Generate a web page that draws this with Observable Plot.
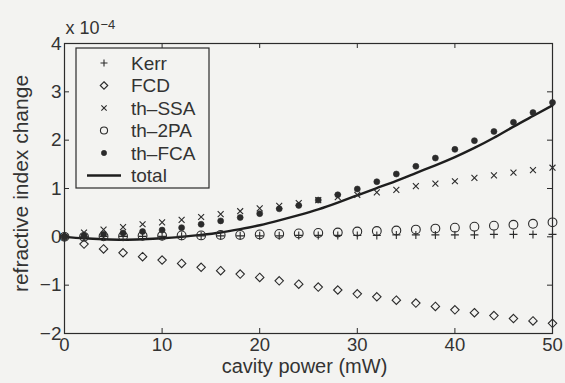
<!DOCTYPE html>
<html>
<head>
<meta charset="utf-8">
<script src="https://cdn.jsdelivr.net/npm/d3@7"></script>
<script src="https://cdn.jsdelivr.net/npm/@observablehq/plot@0.6"></script>
<style>
html, body { margin: 0; padding: 0; background: #f3f3f1; }
#wrap { position: relative; width: 565px; height: 383px; overflow: hidden; }
#wrap svg { display: block; }
#legend { position: absolute; left: 0; top: 0; pointer-events: none; }
</style>
</head>
<body>
<div id="wrap"></div>
<script>
// ---- data (refractive index change, units of 1e-4) ----
const power = [0, 2, 4, 6, 8, 10, 12, 14, 16, 18, 20, 22, 24, 26, 28, 30, 32, 34, 36, 38, 40, 42, 44, 46, 48, 50];
const kerr  = [0, 0.00, 0.01, 0.01, 0.01, 0.01, 0.01, 0.02, 0.02, 0.02, 0.02, 0.02, 0.03, 0.03, 0.03, 0.03, 0.03, 0.04, 0.04, 0.04, 0.04, 0.04, 0.05, 0.05, 0.05, 0.05];
const fcd   = [0, -0.15, -0.25, -0.33, -0.41, -0.48, -0.55, -0.63, -0.70, -0.77, -0.84, -0.91, -0.98, -1.04, -1.10, -1.18, -1.24, -1.31, -1.37, -1.44, -1.51, -1.57, -1.63, -1.69, -1.74, -1.79];
const ssa   = [0, 0.09, 0.15, 0.20, 0.26, 0.30, 0.35, 0.41, 0.47, 0.53, 0.59, 0.64, 0.70, 0.76, 0.82, 0.87, 0.92, 0.97, 1.05, 1.10, 1.15, 1.22, 1.27, 1.33, 1.38, 1.43];
const tpa   = [0, 0.00, 0.01, 0.01, 0.02, 0.02, 0.03, 0.03, 0.04, 0.04, 0.05, 0.06, 0.07, 0.08, 0.09, 0.11, 0.12, 0.13, 0.15, 0.17, 0.19, 0.21, 0.23, 0.25, 0.27, 0.30];
const fca   = [0, 0.02, 0.05, 0.08, 0.11, 0.14, 0.19, 0.26, 0.33, 0.40, 0.48, 0.58, 0.65, 0.76, 0.87, 0.99, 1.14, 1.30, 1.46, 1.63, 1.81, 1.99, 2.18, 2.37, 2.57, 2.78];
const total = [0, -0.03, -0.05, -0.06, -0.05, -0.03, 0.00, 0.04, 0.09, 0.16, 0.24, 0.34, 0.45, 0.57, 0.71, 0.86, 1.01, 1.16, 1.32, 1.48, 1.65, 1.84, 2.05, 2.28, 2.50, 2.72];

const seriesNames = ["Kerr", "FCD", "th\u2013SSA", "th\u20132PA", "th\u2013FCA", "total"];
const xTicks = [0, 10, 20, 30, 40, 50];
const yTicks = [-2, -1, 0, 1, 2, 3, 4];
const xLabel = "cavity power (mW)";
const yLabel = "refractive index change";
const scaleText = "x 10";
const scaleExp = "\u22124";

// ---- styles ----
const ink = "#2b2b2b";
const textInk = "#333";
const font = "'Liberation Sans', Arial, Helvetica, sans-serif";
const W = 565, H = 383, ML = 64, MR = 13, MT = 43, MB = 50;
const FW = W - ML - MR, FH = H - MT - MB, TL = 5;

const chart = Plot.plot({
  width: W, height: H,
  marginLeft: ML, marginRight: MR, marginTop: MT, marginBottom: MB,
  style: { background: "transparent", fontFamily: font, fontSize: "19px", color: textInk },
  x: { domain: [0, 50] },
  y: { domain: [-2, 4] },
  marks: [
    Plot.frame({ stroke: ink, strokeWidth: 1.2 }),
    // inward ticks on all four sides
    Plot.ruleX(xTicks, { insetTop: FH - TL, stroke: ink, strokeWidth: 1 }),
    Plot.ruleX(xTicks, { insetBottom: FH - TL, stroke: ink, strokeWidth: 1 }),
    Plot.ruleY(yTicks, { insetRight: FW - TL, stroke: ink, strokeWidth: 1 }),
    Plot.ruleY(yTicks, { insetLeft: FW - TL, stroke: ink, strokeWidth: 1 }),
    Plot.axisX(xTicks, { tickSize: 0, tickPadding: 4, label: null, fontSize: 18.5, fill: textInk }),
    Plot.axisY(yTicks, { tickSize: 0, tickPadding: 3, label: null, fontSize: 19, fill: textInk }),
    // series
    Plot.line(power, { x: power, y: total, curve: "natural", stroke: "#1e1e1e", strokeWidth: 2.4 }),
    Plot.dot(power, { x: power, y: kerr, symbol: "plus", r: 2.7, stroke: ink, strokeWidth: 1.1, fill: "none" }),
    Plot.dot(power, { x: power, y: fcd, symbol: "diamond2", r: 3.8, stroke: ink, strokeWidth: 1.1, fill: "none" }),
    Plot.dot(power, { x: power, y: ssa, symbol: "times", r: 2.8, stroke: ink, strokeWidth: 1.1, fill: "none" }),
    Plot.dot(power, { x: power, y: tpa, symbol: "circle", r: 4.4, stroke: ink, strokeWidth: 1.1, fill: "none" }),
    Plot.dot(power, { x: power, y: fca, symbol: "circle", r: 3, fill: ink, stroke: ink, strokeWidth: 0.6 }),
    // texts
    Plot.text([xLabel], { frameAnchor: "bottom", textAnchor: "middle", lineAnchor: "bottom", dy: 39, dx: -4, fontSize: 20, fill: textInk }),
    Plot.text([yLabel], { frameAnchor: "left", textAnchor: "middle", rotate: -90, lineAnchor: "middle", dx: -43, dy: -5, fontSize: 21, fill: textInk }),
    Plot.text([scaleText], { frameAnchor: "top-left", textAnchor: "start", lineAnchor: "bottom", dx: 1, dy: -10, fontSize: 18, fill: textInk }),
    Plot.text([scaleExp], { frameAnchor: "top-left", textAnchor: "start", lineAnchor: "bottom", dx: 36, dy: -15, fontSize: 13, fill: textInk })
  ]
});

const wrap = document.getElementById("wrap");
wrap.appendChild(chart);

// ---- legend (inside the axes, top-left) ----
const lg = d3.select(wrap).append("svg")
  .attr("id", "legend").attr("width", W).attr("height", H)
  .style("font-family", font);
const box = { x: 76, y: 48, w: 133, h: 140 };
lg.append("rect").attr("x", box.x).attr("y", box.y).attr("width", box.w).attr("height", box.h)
  .attr("fill", "none").attr("stroke", ink).attr("stroke-width", 1.2);
const rowH = 22.5, firstBase = 69.5, symX = 104, textX = 131;
const symTypes = [d3.symbolPlus, d3.symbolDiamond2, d3.symbolTimes, d3.symbolCircle, d3.symbolCircle, null];
const symSizes = [18, 36, 20, 40, 22, 0];
const symFilled = [false, false, false, false, true, false];
seriesNames.forEach((name, i) => {
  const base = firstBase + i * rowH;
  const cy = base - 6.5;
  if (symTypes[i]) {
    lg.append("path")
      .attr("d", d3.symbol(symTypes[i], symSizes[i])())
      .attr("transform", `translate(${symX},${cy})`)
      .attr("fill", symFilled[i] ? ink : "none")
      .attr("stroke", ink).attr("stroke-width", symFilled[i] ? 0.6 : 1.1);
  } else {
    lg.append("line").attr("x1", 87).attr("x2", 121).attr("y1", cy).attr("y2", cy)
      .attr("stroke", "#1e1e1e").attr("stroke-width", 2.4);
  }
  lg.append("text").attr("x", textX).attr("y", base)
    .attr("font-size", 19).attr("fill", textInk).text(name);
});
</script>
</body>
</html>
